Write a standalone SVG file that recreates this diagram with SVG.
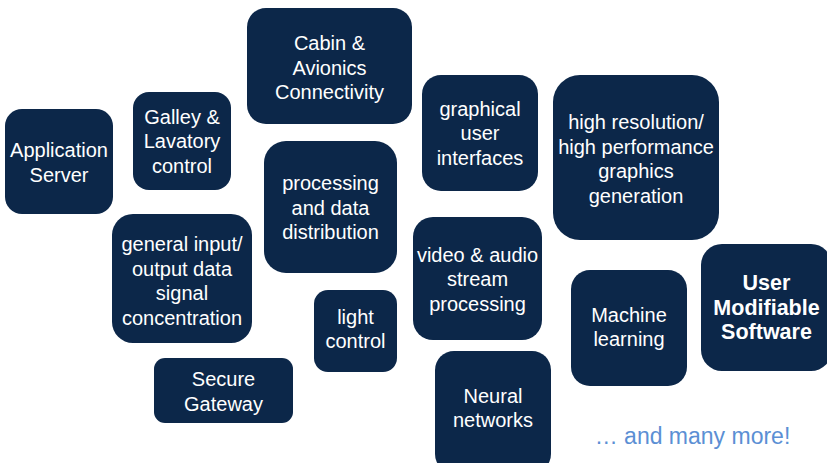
<svg xmlns="http://www.w3.org/2000/svg" width="827" height="463" viewBox="0 0 827 463">
<style>
.box{fill:#0c2749;}
.t{font-family:"Liberation Sans",Arial,sans-serif;font-size:20px;fill:#ffffff;text-anchor:middle;}
.b{font-weight:bold;font-size:21.5px;}
.more{font-family:"Liberation Sans",Arial,sans-serif;font-size:23px;fill:#5b8fd4;text-anchor:middle;}
</style>
<rect width="827" height="463" fill="#ffffff"/>
<g id="application-server">
<rect class="box" x="5" y="109" width="108" height="105" rx="17"/>
<text class="t" x="59" y="157">Application</text>
<text class="t" x="59" y="181.5">Server</text>
</g>
<g id="galley-lavatory">
<rect class="box" x="133" y="92" width="98" height="98" rx="16"/>
<text class="t" x="182" y="123.5">Galley &amp;</text>
<text class="t" x="182" y="148">Lavatory</text>
<text class="t" x="182" y="172.5">control</text>
</g>
<g id="cabin-avionics">
<rect class="box" x="247" y="8" width="165" height="116" rx="19"/>
<text class="t" x="329.5" y="50">Cabin &amp;</text>
<text class="t" x="329.5" y="74.5">Avionics</text>
<text class="t" x="329.5" y="99">Connectivity</text>
</g>
<g id="processing">
<rect class="box" x="264" y="141" width="133" height="132" rx="22"/>
<text class="t" x="330.5" y="190">processing</text>
<text class="t" x="330.5" y="214.5">and data</text>
<text class="t" x="330.5" y="239">distribution</text>
</g>
<g id="general-io">
<rect class="box" x="112" y="214" width="140" height="129" rx="21"/>
<text class="t" x="182" y="251">general input/</text>
<text class="t" x="182" y="275.5">output data</text>
<text class="t" x="182" y="300">signal</text>
<text class="t" x="182" y="324.5">concentration</text>
</g>
<g id="light-control">
<rect class="box" x="314" y="290" width="83" height="82" rx="14"/>
<text class="t" x="355.5" y="323.5">light</text>
<text class="t" x="355.5" y="348">control</text>
</g>
<g id="secure-gateway">
<rect class="box" x="154" y="358" width="139" height="65" rx="11"/>
<text class="t" x="223.5" y="386">Secure</text>
<text class="t" x="223.5" y="410.5">Gateway</text>
</g>
<g id="video-audio">
<rect class="box" x="413" y="217" width="129" height="123" rx="20"/>
<text class="t" x="477.5" y="261.5">video &amp; audio</text>
<text class="t" x="477.5" y="286">stream</text>
<text class="t" x="477.5" y="310.5">processing</text>
</g>
<g id="neural-networks">
<rect class="box" x="435" y="351" width="116" height="122" rx="19"/>
<text class="t" x="493" y="403">Neural</text>
<text class="t" x="493" y="427">networks</text>
</g>
<g id="graphical-ui">
<rect class="box" x="422" y="75" width="116" height="116" rx="19"/>
<text class="t" x="480" y="115.5">graphical</text>
<text class="t" x="480" y="140">user</text>
<text class="t" x="480" y="164.5">interfaces</text>
</g>
<g id="high-resolution">
<rect class="box" x="553" y="75" width="166" height="165" rx="27"/>
<text class="t" x="636" y="129">high resolution/</text>
<text class="t" x="636" y="153.5">high performance</text>
<text class="t" x="636" y="178">graphics</text>
<text class="t" x="636" y="202.5">generation</text>
</g>
<g id="machine-learning">
<rect class="box" x="571" y="270" width="116" height="116" rx="19"/>
<text class="t" x="629" y="321.5">Machine</text>
<text class="t" x="629" y="346">learning</text>
</g>
<g id="user-modifiable">
<rect class="box" x="701" y="244" width="131" height="127" rx="21"/>
<text class="t b" x="766.5" y="290">User</text>
<text class="t b" x="766.5" y="314.5">Modifiable</text>
<text class="t b" x="766.5" y="339">Software</text>
</g>
<g id="connectors"></g>
<text class="more" x="692.5" y="444">… and many more!</text>
</svg>
